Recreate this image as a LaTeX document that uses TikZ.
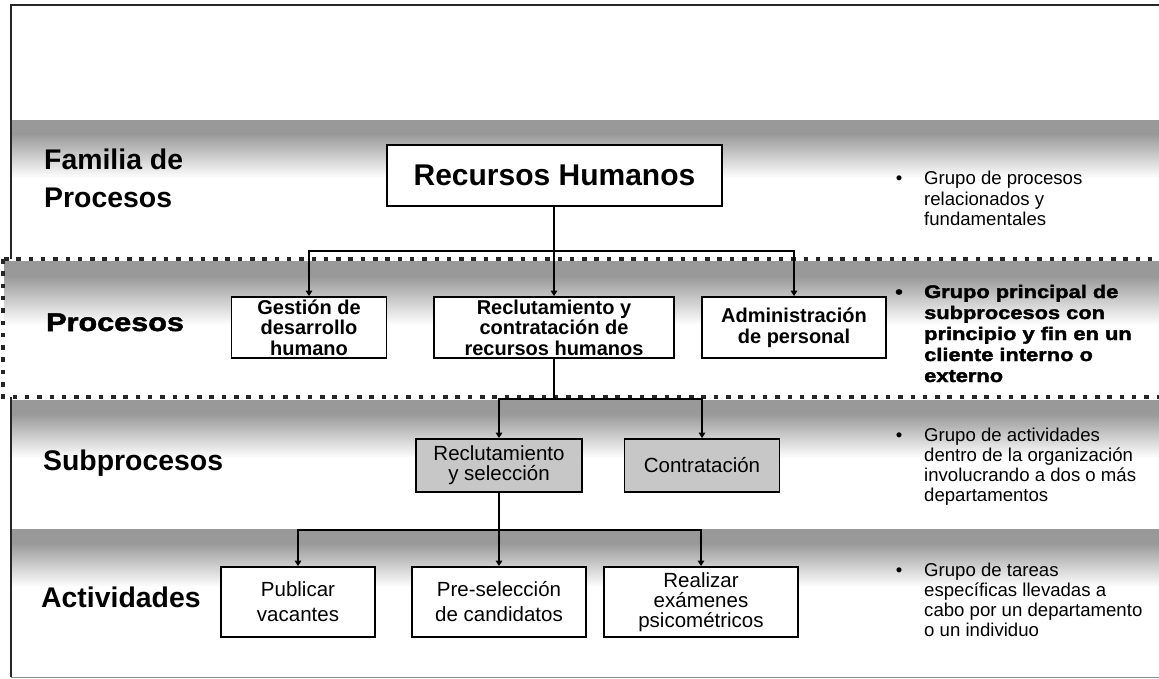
\documentclass[tikz,border=0pt]{standalone}
\usepackage{fontspec}
\setmainfont{Liberation Sans}
\newfontfamily\heavyfont[FakeBold=2,FakeStretch=1.2]{Liberation Sans Bold}
\usetikzlibrary{arrows.meta}

% font size helper (size, baseline skip)
\newcommand\fsz[2]{\fontsize{#1}{#2}\selectfont}
% left-aligned stack of lines whose baseline is the first line
\newcommand\linestack[1]{\vtop{\halign{##\hfil\cr#1\crcr}}}

\begin{document}
\begin{tikzpicture}[x=1pt,y=-1pt,
  frameline/.style={draw=black!85, line width=2pt},
  dotband/.style={draw=black!85, line width=4pt, dash pattern=on 4.5pt off 7.8pt},
  box/.style={draw=black, line width=1.8pt, fill=white, inner sep=0pt, align=center},
  subbox/.style={box, fill=black!22},
  link/.style={draw=black, line width=2pt},
  conn/.style={link, -{Triangle[length=5.5pt,width=6.5pt]}},
  lvl/.style={anchor=base west, inner sep=0pt, font=\bfseries\fsz{28.4}{38}},
  note/.style={anchor=base west, inner sep=0pt, font=\fsz{18.6}{20.3}},
  heavynote/.style={anchor=base west, inner sep=0pt, font=\heavyfont\fsz{18.2}{21}},
  bullet/.style={anchor=base, inner sep=0pt},
  boxbold/.style={font=\bfseries\fsz{20}{20.5}},
  boxreg/.style={font=\fsz{20.5}{20}}
]
\useasboundingbox (0,0) rectangle (1159,679);
\clip (0,0) rectangle (1159,679);
\fill[white] (0,0) rectangle (1159,679);

% shaded level bands
\foreach \t in {120,400,529} {
  \fill[black!40] (12,\t) rectangle (1159,\t+14);
  \shade[top color=black!40, bottom color=white] (12,\t+14) rectangle (1159,\t+58);
}

% outer frame
\draw[frameline] (11,5) -- (1170,5);
\draw[frameline] (11,4) -- (11,677);
\draw[draw=black!45, line width=1pt] (11,677) -- (1170,677);

% highlighted process band with dotted border
\fill[white] (2,259) rectangle (1180,397);
\fill[black!40] (4,261) rectangle (1180,276);
\shade[top color=black!40, bottom color=white] (4,276) rectangle (1180,325);
\draw[dotband] (3,259) rectangle (1190,397);

% level labels
\node[lvl] (famlbl) at (44,170) {\linestack{Familia de\cr Procesos}};
\node[anchor=base west, inner sep=0pt, font=\heavyfont\fsz{25.5}{30}] (proclbl) at (46,331) {Procesos};
\node[lvl] (subplbl) at (43,470) {Subprocesos};
\node[lvl] (actlbl) at (41,607) {Actividades};

% boxes
\node[box, minimum width=335pt, minimum height=61pt, font=\bfseries\fsz{30}{34}] (rh) at (554.5,175.5) {Recursos Humanos};

\node[box, boxbold, minimum width=155pt, minimum height=61pt] (gdh) at (309,327.5) {Gestión de\\desarrollo\\humano};
\node[box, boxbold, minimum width=240pt, minimum height=61pt] (rcrh) at (554,327.5) {Reclutamiento y\\contratación de\\recursos humanos};
\node[box, boxbold, minimum width=184pt, minimum height=61pt] (adp) at (794,327.5) {Administración\\de personal};

\node[subbox, boxreg, minimum width=166pt, minimum height=53pt] (rys) at (499,465.5) {Reclutamiento\\y selección};
\node[subbox, boxreg, minimum width=155pt, minimum height=53pt] (con) at (702,465.5) {Contratación};

\node[box, font=\fsz{20.5}{25}, minimum width=154pt, minimum height=70pt] (pub) at (298,602) {Publicar\\vacantes};
\node[box, font=\fsz{20.5}{25}, minimum width=174pt, minimum height=70pt] (pre) at (499,602) {Pre-selección\\de candidatos};
\node[box, font=\fsz{20.5}{20}, minimum width=194pt, minimum height=70pt] (rea) at (701,602) {Realizar\\exámenes\\psicométricos};

% connectors
\coordinate (bus1) at (554,251);
\coordinate (bus2) at (554,399);
\coordinate (bus3) at (499,530);

\draw[conn] (rh.south -| rcrh.north) -- (rcrh.north);
\draw[conn] (bus1) -| (gdh.north);
\draw[conn] (bus1) -| (adp.north);

\draw[link] (rcrh.south) -- (bus2);
\draw[conn] (bus2) -| (rys.north);
\draw[conn] (bus2) -| (con.north);

\draw[conn] (rys.south) -- (pre.north);
\draw[conn] (bus3) -| (pub.north);
\draw[conn] (bus3) -| (rea.north);

% descriptions on the right
\node[bullet, font=\fsz{18.6}{20.3}] (b1) at (899,185) {•};
\node[note] (n1) at (924,185) {\linestack{Grupo de procesos\cr relacionados y\cr fundamentales}};

\node[bullet, font=\heavyfont\fsz{18.2}{21}] (b2) at (899,298) {•};
\node[heavynote] (n2) at (924,298) {\linestack{Grupo principal de\cr subprocesos con\cr principio y fin en un\cr cliente interno o\cr externo}};

\node[bullet, font=\fsz{18.6}{20.3}] (b3) at (899,441) {•};
\node[note] (n3) at (924,441) {\linestack{Grupo de actividades\cr dentro de la organización\cr involucrando a dos o más\cr departamentos}};

\node[bullet, font=\fsz{18.6}{20.3}] (b4) at (899,576) {•};
\node[note] (n4) at (924,576) {\linestack{Grupo de tareas\cr específicas llevadas a\cr cabo por un departamento\cr o un individuo}};
\end{tikzpicture}
\end{document}
